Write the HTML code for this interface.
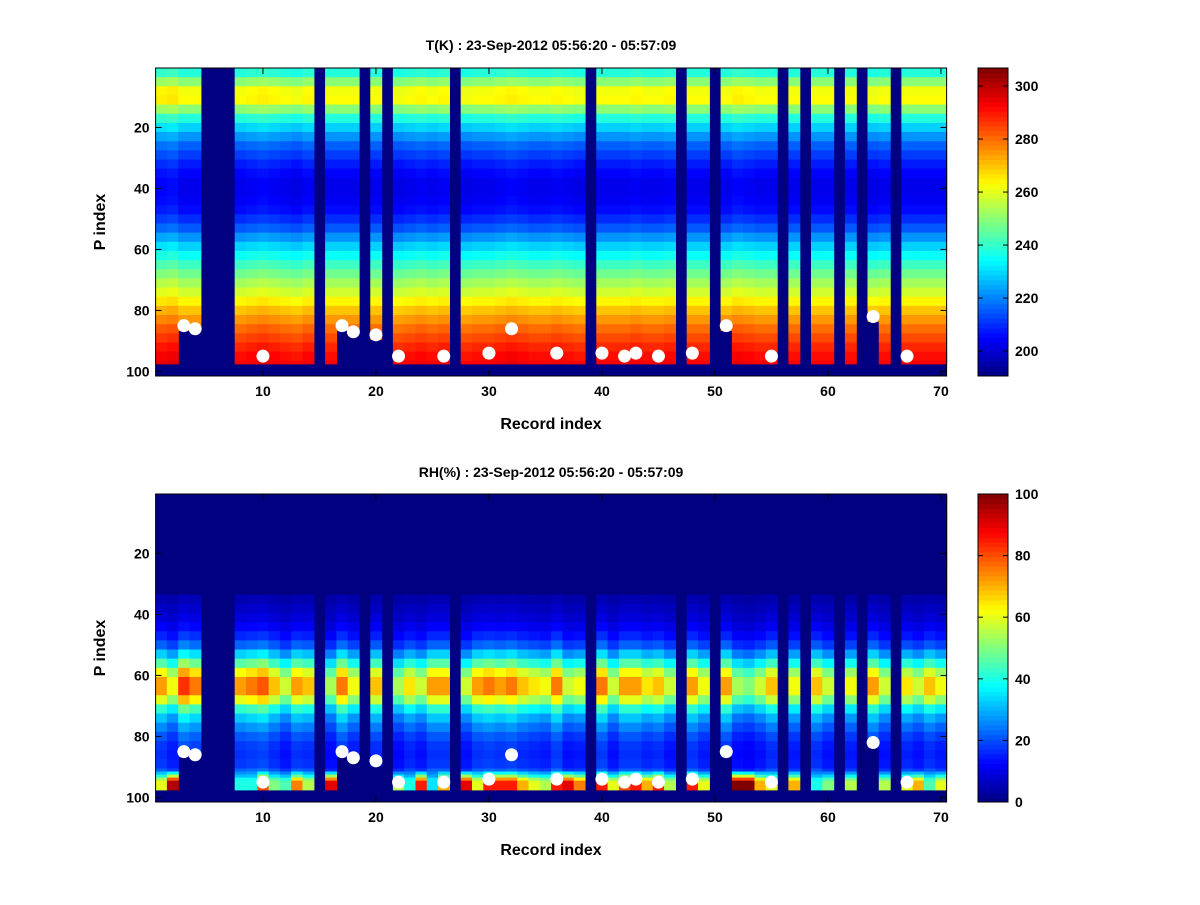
<!DOCTYPE html>
<html><head><meta charset="utf-8"><style>
body{margin:0;background:#fff;}
svg text{font-family:"Liberation Sans",sans-serif;font-weight:bold;}
</style></head>
<body>
<svg id="fig" width="1200" height="900" xmlns="http://www.w3.org/2000/svg">
<rect width="1200" height="900" fill="#fff"/>
<text x="551" y="50" font-size="14" text-anchor="middle">T(K) : 23-Sep-2012 05:56:20 - 05:57:09</text>
<text x="551" y="477" font-size="14" text-anchor="middle">RH(%) : 23-Sep-2012 05:56:20 - 05:57:09</text>
<text x="551" y="429" font-size="16" text-anchor="middle">Record index</text>
<text x="551" y="855" font-size="16" text-anchor="middle">Record index</text>
<text transform="translate(105,222) rotate(-90)" font-size="16" text-anchor="middle">P index</text>
<text transform="translate(105,648) rotate(-90)" font-size="16" text-anchor="middle">P index</text>
<g id="g1"></g>
<g id="g2"></g>
</svg>
<script>
// ---- data ----
const records = Array.from({length:70},(_,i)=>i+1);
const missingRecords = [5,6,7,15,19,21,27,39,47,50,56,58,61,63,66];
const dotRecords = [3,4,10,17,18,20,22,26,30,32,36,40,42,43,45,48,51,55,64,67];
const dotP =       [85,86,95,85,87,88,95,95,94,86,94,94,95,94,95,94,85,95,82,95];
const lastValidRow = {3:86,4:86,17:86,18:87,20:89,51:86,64:83};
// temperature profile, one value per 3 P-index rows
const tProfile = [238,250,262,263,250,238,229,222,216,212,208,205,203,203,204,206,210,215,222,229,235,241,247,253,258,264,270,275,280,284,288,291,293,293];
const tColOffset = [2,3,0,0,0,0,0,0,1,2,1,0,-1,1,0,0,0,0,0,0,0,-1,0,1,0,1,0,-1,0,0,1,2,1,0,0,1,0,-1,0,0,0,0,1,0,0,1,0,0,0,0,0,2,1,0,0,0,0,0,0,0,0,0,0,-1,0,0,0,0,0,0];
// RH profile, one value per 3 P-index rows
const rhProfile = [0,0,0,0,0,0,0,0,0,0,0,5,7,9,12,16,22,33,46,62,72,72,60,42,32,26,21,18,17,18,22,35,45,45];
const rhScale = [1.0,0.85,1.15,1.05,1,1,1,1.0,1.05,1.1,0.95,0.8,1.0,0.95,1,0.75,1.05,0.85,1,0.95,1,0.75,0.9,0.8,1.0,1.0,1,0.8,1.0,1.05,1.0,1.05,0.95,0.9,0.85,1.05,0.8,0.85,1,1.05,0.8,1.0,1.0,0.9,0.95,0.8,1,1.0,0.85,1,1.0,0.75,0.7,0.8,0.95,1,0.85,1,0.95,0.8,1,0.85,1,1.0,0.8,1,0.9,0.8,0.95,0.85];
const rhBottom = [60,95,0,0,0,0,0,40,40,80,50,45,75,55,0,90,70,0,0,0,0,55,40,85,35,70,0,90,60,85,85,85,70,60,55,85,90,75,0,85,60,80,85,70,85,55,0,85,60,0,0,100,100,70,60,0,70,0,40,50,0,55,0,0,55,0,60,70,45,60];
const tTicks=[200,220,240,260,280,300], rhTicks=[0,20,40,60,80,100];
const xTicks=[10,20,30,40,50,60,70], yTicks=[20,40,60,80,100];

function jet(t){t=Math.max(0,Math.min(1,t));const c=v=>Math.round(255*Math.max(0,Math.min(1,v)));
 return `rgb(${c(1.5-Math.abs(4*t-3))},${c(1.5-Math.abs(4*t-2))},${c(1.5-Math.abs(4*t-1))})`;}
const NS='http://www.w3.org/2000/svg';
function mk(tag,attrs,parent){const e=document.createElementNS(NS,tag);for(const k in attrs)e.setAttribute(k,attrs[k]);parent.appendChild(e);return e;}

function panel(g,top,cmin,cmax,valFn,cTicks,pname){
 const L=155.6,R=946.6,T=top,B=top+308;
 const xs=v=>L+(v-0.5)*(R-L)/70, ys=v=>T+(v-0.5)*(B-T)/101;
 const col=v=>jet((v-cmin)/(cmax-cmin));
 mk('rect',{x:L,y:T,width:R-L,height:B-T,fill:jet(0)},g);
 for(const r of records){
  for(let p=1;p<=101;p++){
   const v=valFn(r,p); if(v===null) continue;
   const el=mk('rect',{x:xs(r-0.5),y:ys(p-0.5),width:(R-L)/70+0.6,height:(B-T)/101+0.6,fill:col(v)},g);
   
   
  }
 }
 dotRecords.forEach((r,i)=>{const d=mk('circle',{cx:xs(r),cy:ys(dotP[i]),r:6.5,fill:'#fff'},g);
  
  });
 const box=mk('rect',{x:L,y:T,width:R-L,height:B-T,fill:'none',stroke:'#000','stroke-width':1},g);
 
 
 xTicks.forEach(v=>{const x=xs(v);
  mk('line',{x1:x,x2:x,y1:B,y2:B-6,stroke:'#000'},g);mk('line',{x1:x,x2:x,y1:T,y2:T+6,stroke:'#000'},g);
  const t=mk('text',{x:x,y:B+20,'font-size':14,'text-anchor':'middle'},g);t.textContent=v;
  
  });
 yTicks.forEach(v=>{const y=ys(v);
  mk('line',{x1:L,x2:L+6,y1:y,y2:y,stroke:'#000'},g);mk('line',{x1:R,x2:R-6,y1:y,y2:y,stroke:'#000'},g);
  const t=mk('text',{x:L-6,y:y+5,'font-size':14,'text-anchor':'end'},g);t.textContent=v;
  
  });
 const cb=mk('g',{},g);
 
 
 const CL=978,CR=1008,N=64;
 for(let i=0;i<N;i++){mk('rect',{x:CL,y:B-(i+1)*(B-T)/N,width:CR-CL,height:(B-T)/N+0.5,fill:jet((i+0.5)/N)},cb);}
 mk('rect',{x:CL,y:T,width:CR-CL,height:B-T,fill:'none',stroke:'#000'},cb);
 cTicks.forEach(v=>{const y=B-(v-cmin)/(cmax-cmin)*(B-T);
  mk('line',{x1:CL,x2:CL+5,y1:y,y2:y,stroke:'#000'},cb);mk('line',{x1:CR,x2:CR-5,y1:y,y2:y,stroke:'#000'},cb);
  const t=mk('text',{x:CR+7,y:y+5,'font-size':14},cb);t.textContent=v;
  
  });
}
const valid=(r,p)=>!missingRecords.includes(r)&&p<=(lastValidRow[r]||97);
panel(document.getElementById('g1'),68,190.6,306.8,(r,p)=>valid(r,p)?tProfile[Math.floor((p-1)/3)]+tColOffset[r-1]:null,tTicks,'temperature');
panel(document.getElementById('g2'),494,0,100,(r,p)=>{
 if(!valid(r,p))return null;
 const base=Math.min(100,rhProfile[Math.floor((p-1)/3)]*rhScale[r-1]);
 const bot=rhBottom[r-1];
 if(bot>0&&p>=95)return bot;
 if(bot>0&&p>=92)return base+(bot-base)*(p-91)/4;
 return base;},rhTicks,'humidity');
</script>
</body></html>
